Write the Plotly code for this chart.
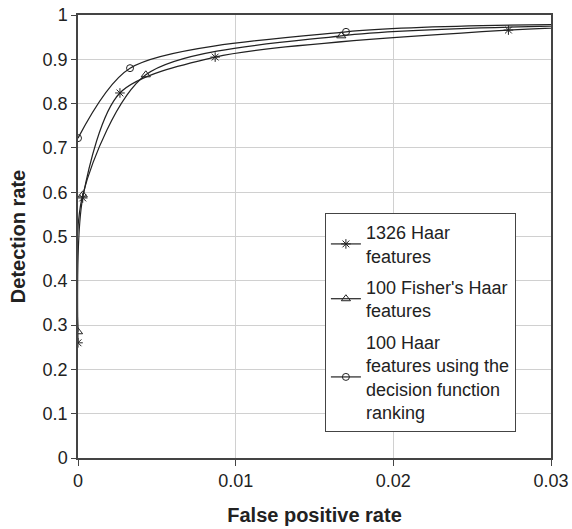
import plotly.graph_objects as go

# Data
fpr_1326 = [0.0, 0.0003, 0.00266, 0.0087, 0.0273, 0.036]
det_1326 = [0.26, 0.587, 0.824, 0.905, 0.966, 0.975]

fpr_fisher = [0.0, 0.0003, 0.0043, 0.0167, 0.036]
det_fisher = [0.285, 0.594, 0.865, 0.953, 0.978]

fpr_dec = [0.0, 0.0033, 0.0170, 0.036]
det_dec = [0.722, 0.880, 0.962, 0.98]

names = ["1326 Haar<br>features",
         "100 Fisher's Haar<br>features",
         "100 Haar<br>features using the<br>decision function<br>ranking"]

x_ticks = [0, 0.01, 0.02, 0.03]
x_tick_labels = ["0", "0.01", "0.02", "0.03"]
y_ticks = [0, 0.1, 0.2, 0.3, 0.4, 0.5, 0.6, 0.7, 0.8, 0.9, 1.0]
y_tick_labels = ["0", "0.1", "0.2", "0.3", "0.4", "0.5", "0.6", "0.7", "0.8", "0.9", "1"]

fig = go.Figure()
series = [(fpr_1326, det_1326, "asterisk-open", 8),
          (fpr_fisher, det_fisher, "triangle-up-open", 8),
          (fpr_dec, det_dec, "circle-open", 7)]
for i, ((xs, ys, sym, ms), nm) in enumerate(zip(series, names)):
    fig.add_trace(go.Scatter(
        x=xs, y=ys, mode="lines+markers", name=nm, legendgroup=f"g{i}",
        line=dict(color="#222222", width=1.2, shape="spline", smoothing=0.8),
        marker=dict(symbol=sym, size=ms, color="#222222", line=dict(width=1, color="#222222")),
        cliponaxis=True,
    ))

fig.update_layout(
    width=572, height=529,
    margin=dict(l=78, r=21, t=15, b=71),
    paper_bgcolor="white", plot_bgcolor="white",
    font=dict(family="Liberation Sans, Arial, sans-serif", size=18, color="#222222"),
    showlegend=True,
    legend=dict(
        x=0.522, y=0.553, xanchor="left", yanchor="top",
        bgcolor="white", bordercolor="#444444", borderwidth=1,
        font=dict(size=18, color="#222222"),
        tracegroupgap=5, itemwidth=30,
    ),
    xaxis=dict(
        range=[0, 0.03], tickvals=x_ticks, ticktext=x_tick_labels,
        showgrid=True, gridcolor="#d0d0d0", gridwidth=1,
        showline=True, linecolor="#444444", linewidth=1.5, mirror=True,
        ticks="outside", ticklen=6, tickcolor="#444444",
        zeroline=False, automargin=False, ticklabeloverflow="allow",
        tickfont=dict(size=18),
        title=dict(text="<b>False positive rate</b>", font=dict(size=20), standoff=18),
    ),
    yaxis=dict(
        range=[0, 1], tickvals=y_ticks, ticktext=y_tick_labels,
        showgrid=True, gridcolor="#d0d0d0", gridwidth=1,
        showline=True, linecolor="#444444", linewidth=1.5, mirror=True,
        ticks="outside", ticklen=5, tickcolor="#444444",
        zeroline=False, automargin=False, ticklabeloverflow="allow",
        tickfont=dict(size=18),
        title=dict(text="<b>Detection rate</b>", font=dict(size=20), standoff=12),
    ),
)

# Remove the default page-body margin so the figure fills the 572x529 window.
fig.write_html("out.html", config={"displayModeBar": False},
               post_script="document.body.style.margin='0';")
